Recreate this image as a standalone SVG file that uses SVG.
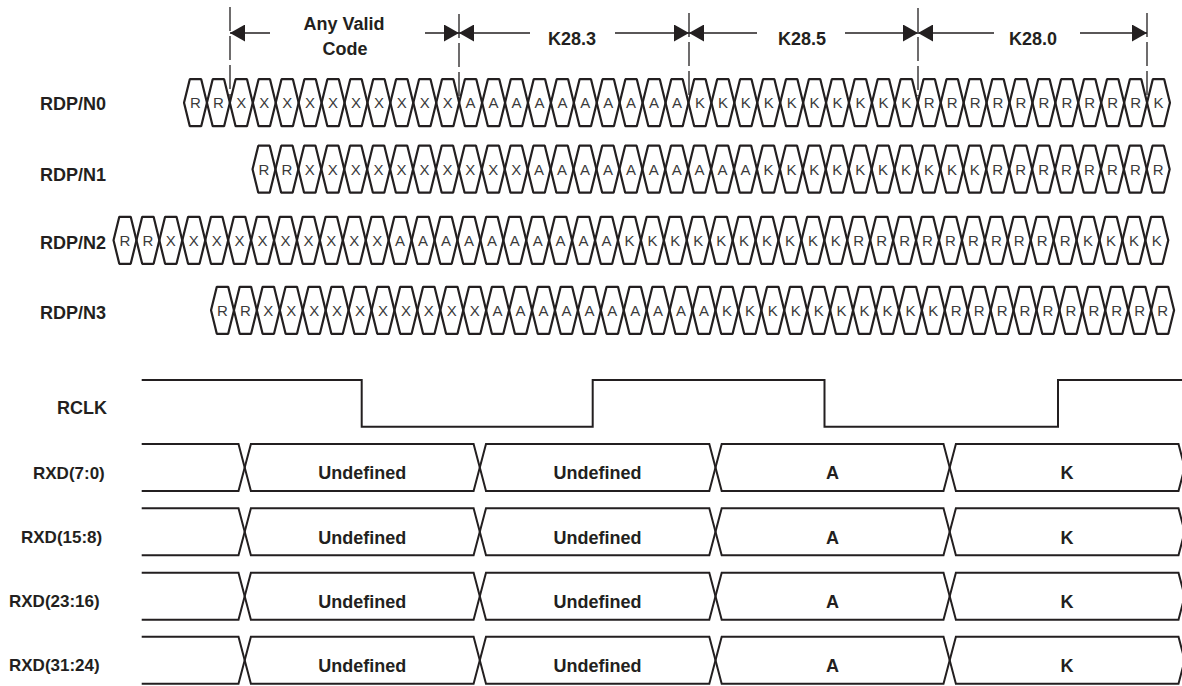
<svg xmlns="http://www.w3.org/2000/svg" xmlns:xlink="http://www.w3.org/1999/xlink" width="1182" height="686" viewBox="0 0 1182 686">
<style>
.ln{fill:none;stroke:#231f20;stroke-width:2;stroke-linejoin:miter;stroke-miterlimit:10}
.cellp{fill:none;stroke:#231f20;stroke-width:2.2;stroke-linejoin:bevel}
.c{font-family:"Liberation Sans",Arial,sans-serif;font-size:15px;fill:#3a3a3a;text-anchor:middle}
.lb{font-family:"Liberation Sans",Arial,sans-serif;font-size:18px;font-weight:bold;fill:#231f20}
.lbx{font-family:"Liberation Sans",Arial,sans-serif;font-size:17px;font-weight:bold;fill:#231f20}
.m{text-anchor:middle}
.dim{stroke:#231f20;stroke-width:1.3;fill:none}
.dash{stroke:#231f20;stroke-width:1.3;fill:none;stroke-dasharray:24 5}
</style>
<defs>
<polygon id="cell" class="cellp" points="-11.47,0 -5.7,-23.5 5.7,-23.5 11.47,0 5.7,23.5 -5.7,23.5"/>
<g id="bus">
<path class="ln" d="M141.7,0 H238.5 L244.7,23.5 L238.5,47 H141.7"/>
<polygon class="ln" points="244.7,23.5 250.9,0 473.6,0 479.8,23.5 473.6,47 250.9,47"/>
<polygon class="ln" points="479.8,23.5 486,0 709.3,0 715.5,23.5 709.3,47 486,47"/>
<polygon class="ln" points="715.5,23.5 721.7,0 943.5,0 949.7,23.5 943.5,47 721.7,47"/>
<polygon class="ln" points="949.7,23.5 955.9,0 1178.5,0 1184.7,23.5 1178.5,47 955.9,47"/>
</g>
<marker id="ah" viewBox="0 0 15 17" refX="15" refY="8.5" markerWidth="15" markerHeight="17" markerUnits="userSpaceOnUse" orient="auto">
<path d="M0,0 L15,8.5 L0,17 z" fill="#231f20"/>
</marker>
</defs>

<g id="connectors">
<line class="dash" x1="230" y1="7" x2="230" y2="100"/>
<line class="dash" x1="459" y1="14" x2="459" y2="100"/>
<line class="dash" x1="689" y1="13" x2="689" y2="96"/>
<line class="dash" x1="918" y1="8" x2="918" y2="96"/>
<line class="dash" x1="1147" y1="13" x2="1147" y2="96"/>
<line class="dim" x1="270" y1="33" x2="230" y2="33" marker-end="url(#ah)"/>
<line class="dim" x1="425" y1="33" x2="459" y2="33" marker-end="url(#ah)"/>
<line class="dim" x1="530" y1="33" x2="459" y2="33" marker-end="url(#ah)"/>
<line class="dim" x1="615" y1="33" x2="689" y2="33" marker-end="url(#ah)"/>
<line class="dim" x1="757" y1="33" x2="689" y2="33" marker-end="url(#ah)"/>
<line class="dim" x1="845" y1="33" x2="918" y2="33" marker-end="url(#ah)"/>
<line class="dim" x1="994" y1="33" x2="918" y2="33" marker-end="url(#ah)"/>
<line class="dim" x1="1080" y1="33" x2="1147" y2="33" marker-end="url(#ah)"/>
</g>

<g id="dim-labels">
<text class="lb m" x="344" y="30">Any Valid</text>
<text class="lb m" x="345" y="55">Code</text>
<text class="lb m" x="572" y="45">K28.3</text>
<text class="lb m" x="802" y="45">K28.5</text>
<text class="lb m" x="1033" y="45">K28.0</text>
</g>

<g id="rdp-n0">
<text class="lb" x="40" y="110">RDP/N0</text>
<g transform="translate(0,102.7)">
<use href="#cell" x="195.5"/><use href="#cell" x="218.4"/><use href="#cell" x="241.3"/><use href="#cell" x="264.3"/><use href="#cell" x="287.2"/><use href="#cell" x="310.1"/><use href="#cell" x="333.1"/><use href="#cell" x="356.0"/><use href="#cell" x="378.9"/><use href="#cell" x="401.8"/><use href="#cell" x="424.8"/><use href="#cell" x="447.7"/><use href="#cell" x="470.6"/><use href="#cell" x="493.6"/><use href="#cell" x="516.5"/><use href="#cell" x="539.4"/><use href="#cell" x="562.4"/><use href="#cell" x="585.3"/><use href="#cell" x="608.2"/><use href="#cell" x="631.1"/><use href="#cell" x="654.1"/><use href="#cell" x="677.0"/><use href="#cell" x="699.9"/><use href="#cell" x="722.9"/><use href="#cell" x="745.8"/><use href="#cell" x="768.7"/><use href="#cell" x="791.7"/><use href="#cell" x="814.6"/><use href="#cell" x="837.5"/><use href="#cell" x="860.4"/><use href="#cell" x="883.4"/><use href="#cell" x="906.3"/><use href="#cell" x="929.2"/><use href="#cell" x="952.2"/><use href="#cell" x="975.1"/><use href="#cell" x="998.0"/><use href="#cell" x="1021.0"/><use href="#cell" x="1043.9"/><use href="#cell" x="1066.8"/><use href="#cell" x="1089.7"/><use href="#cell" x="1112.7"/><use href="#cell" x="1135.6"/><use href="#cell" x="1158.5"/>
<g transform="translate(0,5.3)">
<text class="c" x="195.5">R</text><text class="c" x="218.4">R</text><text class="c" x="241.3">X</text><text class="c" x="264.3">X</text><text class="c" x="287.2">X</text><text class="c" x="310.1">X</text><text class="c" x="333.1">X</text><text class="c" x="356.0">X</text><text class="c" x="378.9">X</text><text class="c" x="401.8">X</text><text class="c" x="424.8">X</text><text class="c" x="447.7">X</text><text class="c" x="470.6">A</text><text class="c" x="493.6">A</text><text class="c" x="516.5">A</text><text class="c" x="539.4">A</text><text class="c" x="562.4">A</text><text class="c" x="585.3">A</text><text class="c" x="608.2">A</text><text class="c" x="631.1">A</text><text class="c" x="654.1">A</text><text class="c" x="677.0">A</text><text class="c" x="699.9">K</text><text class="c" x="722.9">K</text><text class="c" x="745.8">K</text><text class="c" x="768.7">K</text><text class="c" x="791.7">K</text><text class="c" x="814.6">K</text><text class="c" x="837.5">K</text><text class="c" x="860.4">K</text><text class="c" x="883.4">K</text><text class="c" x="906.3">K</text><text class="c" x="929.2">R</text><text class="c" x="952.2">R</text><text class="c" x="975.1">R</text><text class="c" x="998.0">R</text><text class="c" x="1021.0">R</text><text class="c" x="1043.9">R</text><text class="c" x="1066.8">R</text><text class="c" x="1089.7">R</text><text class="c" x="1112.7">R</text><text class="c" x="1135.6">R</text><text class="c" x="1158.5">K</text>
</g>
</g>
</g>

<g id="rdp-n1">
<text class="lb" x="40" y="180.5">RDP/N1</text>
<g transform="translate(0,169.2)">
<use href="#cell" x="264.0"/><use href="#cell" x="286.9"/><use href="#cell" x="309.8"/><use href="#cell" x="332.8"/><use href="#cell" x="355.7"/><use href="#cell" x="378.6"/><use href="#cell" x="401.6"/><use href="#cell" x="424.5"/><use href="#cell" x="447.4"/><use href="#cell" x="470.3"/><use href="#cell" x="493.3"/><use href="#cell" x="516.2"/><use href="#cell" x="539.1"/><use href="#cell" x="562.1"/><use href="#cell" x="585.0"/><use href="#cell" x="607.9"/><use href="#cell" x="630.9"/><use href="#cell" x="653.8"/><use href="#cell" x="676.7"/><use href="#cell" x="699.6"/><use href="#cell" x="722.6"/><use href="#cell" x="745.5"/><use href="#cell" x="768.4"/><use href="#cell" x="791.4"/><use href="#cell" x="814.3"/><use href="#cell" x="837.2"/><use href="#cell" x="860.2"/><use href="#cell" x="883.1"/><use href="#cell" x="906.0"/><use href="#cell" x="928.9"/><use href="#cell" x="951.9"/><use href="#cell" x="974.8"/><use href="#cell" x="997.7"/><use href="#cell" x="1020.7"/><use href="#cell" x="1043.6"/><use href="#cell" x="1066.5"/><use href="#cell" x="1089.5"/><use href="#cell" x="1112.4"/><use href="#cell" x="1135.3"/><use href="#cell" x="1158.2"/>
<g transform="translate(0,5.3)">
<text class="c" x="264.0">R</text><text class="c" x="286.9">R</text><text class="c" x="309.8">X</text><text class="c" x="332.8">X</text><text class="c" x="355.7">X</text><text class="c" x="378.6">X</text><text class="c" x="401.6">X</text><text class="c" x="424.5">X</text><text class="c" x="447.4">X</text><text class="c" x="470.3">X</text><text class="c" x="493.3">X</text><text class="c" x="516.2">X</text><text class="c" x="539.1">A</text><text class="c" x="562.1">A</text><text class="c" x="585.0">A</text><text class="c" x="607.9">A</text><text class="c" x="630.9">A</text><text class="c" x="653.8">A</text><text class="c" x="676.7">A</text><text class="c" x="699.6">A</text><text class="c" x="722.6">A</text><text class="c" x="745.5">A</text><text class="c" x="768.4">K</text><text class="c" x="791.4">K</text><text class="c" x="814.3">K</text><text class="c" x="837.2">K</text><text class="c" x="860.2">K</text><text class="c" x="883.1">K</text><text class="c" x="906.0">K</text><text class="c" x="928.9">K</text><text class="c" x="951.9">K</text><text class="c" x="974.8">K</text><text class="c" x="997.7">R</text><text class="c" x="1020.7">R</text><text class="c" x="1043.6">R</text><text class="c" x="1066.5">R</text><text class="c" x="1089.5">R</text><text class="c" x="1112.4">R</text><text class="c" x="1135.3">R</text><text class="c" x="1158.2">R</text>
</g>
</g>
</g>

<g id="rdp-n2">
<text class="lb" x="40" y="248.5">RDP/N2</text>
<g transform="translate(0,240.3)">
<use href="#cell" x="125.0"/><use href="#cell" x="147.9"/><use href="#cell" x="170.8"/><use href="#cell" x="193.8"/><use href="#cell" x="216.7"/><use href="#cell" x="239.6"/><use href="#cell" x="262.6"/><use href="#cell" x="285.5"/><use href="#cell" x="308.4"/><use href="#cell" x="331.3"/><use href="#cell" x="354.3"/><use href="#cell" x="377.2"/><use href="#cell" x="400.1"/><use href="#cell" x="423.1"/><use href="#cell" x="446.0"/><use href="#cell" x="468.9"/><use href="#cell" x="491.9"/><use href="#cell" x="514.8"/><use href="#cell" x="537.7"/><use href="#cell" x="560.6"/><use href="#cell" x="583.6"/><use href="#cell" x="606.5"/><use href="#cell" x="629.4"/><use href="#cell" x="652.4"/><use href="#cell" x="675.3"/><use href="#cell" x="698.2"/><use href="#cell" x="721.2"/><use href="#cell" x="744.1"/><use href="#cell" x="767.0"/><use href="#cell" x="789.9"/><use href="#cell" x="812.9"/><use href="#cell" x="835.8"/><use href="#cell" x="858.7"/><use href="#cell" x="881.7"/><use href="#cell" x="904.6"/><use href="#cell" x="927.5"/><use href="#cell" x="950.5"/><use href="#cell" x="973.4"/><use href="#cell" x="996.3"/><use href="#cell" x="1019.2"/><use href="#cell" x="1042.2"/><use href="#cell" x="1065.1"/><use href="#cell" x="1088.0"/><use href="#cell" x="1111.0"/><use href="#cell" x="1133.9"/><use href="#cell" x="1156.8"/>
<g transform="translate(0,5.3)">
<text class="c" x="125.0">R</text><text class="c" x="147.9">R</text><text class="c" x="170.8">X</text><text class="c" x="193.8">X</text><text class="c" x="216.7">X</text><text class="c" x="239.6">X</text><text class="c" x="262.6">X</text><text class="c" x="285.5">X</text><text class="c" x="308.4">X</text><text class="c" x="331.3">X</text><text class="c" x="354.3">X</text><text class="c" x="377.2">X</text><text class="c" x="400.1">A</text><text class="c" x="423.1">A</text><text class="c" x="446.0">A</text><text class="c" x="468.9">A</text><text class="c" x="491.9">A</text><text class="c" x="514.8">A</text><text class="c" x="537.7">A</text><text class="c" x="560.6">A</text><text class="c" x="583.6">A</text><text class="c" x="606.5">A</text><text class="c" x="629.4">K</text><text class="c" x="652.4">K</text><text class="c" x="675.3">K</text><text class="c" x="698.2">K</text><text class="c" x="721.2">K</text><text class="c" x="744.1">K</text><text class="c" x="767.0">K</text><text class="c" x="789.9">K</text><text class="c" x="812.9">K</text><text class="c" x="835.8">K</text><text class="c" x="858.7">R</text><text class="c" x="881.7">R</text><text class="c" x="904.6">R</text><text class="c" x="927.5">R</text><text class="c" x="950.5">R</text><text class="c" x="973.4">R</text><text class="c" x="996.3">R</text><text class="c" x="1019.2">R</text><text class="c" x="1042.2">R</text><text class="c" x="1065.1">R</text><text class="c" x="1088.0">K</text><text class="c" x="1111.0">K</text><text class="c" x="1133.9">K</text><text class="c" x="1156.8">K</text>
</g>
</g>
</g>

<g id="rdp-n3">
<text class="lb" x="40" y="318.5">RDP/N3</text>
<g transform="translate(0,310.3)">
<use href="#cell" x="222.5"/><use href="#cell" x="245.4"/><use href="#cell" x="268.3"/><use href="#cell" x="291.3"/><use href="#cell" x="314.2"/><use href="#cell" x="337.1"/><use href="#cell" x="360.1"/><use href="#cell" x="383.0"/><use href="#cell" x="405.9"/><use href="#cell" x="428.8"/><use href="#cell" x="451.8"/><use href="#cell" x="474.7"/><use href="#cell" x="497.6"/><use href="#cell" x="520.6"/><use href="#cell" x="543.5"/><use href="#cell" x="566.4"/><use href="#cell" x="589.4"/><use href="#cell" x="612.3"/><use href="#cell" x="635.2"/><use href="#cell" x="658.1"/><use href="#cell" x="681.1"/><use href="#cell" x="704.0"/><use href="#cell" x="726.9"/><use href="#cell" x="749.9"/><use href="#cell" x="772.8"/><use href="#cell" x="795.7"/><use href="#cell" x="818.7"/><use href="#cell" x="841.6"/><use href="#cell" x="864.5"/><use href="#cell" x="887.4"/><use href="#cell" x="910.4"/><use href="#cell" x="933.3"/><use href="#cell" x="956.2"/><use href="#cell" x="979.2"/><use href="#cell" x="1002.1"/><use href="#cell" x="1025.0"/><use href="#cell" x="1048.0"/><use href="#cell" x="1070.9"/><use href="#cell" x="1093.8"/><use href="#cell" x="1116.7"/><use href="#cell" x="1139.7"/><use href="#cell" x="1162.6"/>
<g transform="translate(0,5.3)">
<text class="c" x="222.5">R</text><text class="c" x="245.4">R</text><text class="c" x="268.3">X</text><text class="c" x="291.3">X</text><text class="c" x="314.2">X</text><text class="c" x="337.1">X</text><text class="c" x="360.1">X</text><text class="c" x="383.0">X</text><text class="c" x="405.9">X</text><text class="c" x="428.8">X</text><text class="c" x="451.8">X</text><text class="c" x="474.7">X</text><text class="c" x="497.6">A</text><text class="c" x="520.6">A</text><text class="c" x="543.5">A</text><text class="c" x="566.4">A</text><text class="c" x="589.4">A</text><text class="c" x="612.3">A</text><text class="c" x="635.2">A</text><text class="c" x="658.1">A</text><text class="c" x="681.1">A</text><text class="c" x="704.0">A</text><text class="c" x="726.9">K</text><text class="c" x="749.9">K</text><text class="c" x="772.8">K</text><text class="c" x="795.7">K</text><text class="c" x="818.7">K</text><text class="c" x="841.6">K</text><text class="c" x="864.5">K</text><text class="c" x="887.4">K</text><text class="c" x="910.4">K</text><text class="c" x="933.3">K</text><text class="c" x="956.2">R</text><text class="c" x="979.2">R</text><text class="c" x="1002.1">R</text><text class="c" x="1025.0">R</text><text class="c" x="1048.0">R</text><text class="c" x="1070.9">R</text><text class="c" x="1093.8">R</text><text class="c" x="1116.7">R</text><text class="c" x="1139.7">R</text><text class="c" x="1162.6">R</text>
</g>
</g>
</g>

<g id="rclk">
<text class="lb" x="107" y="413.5" text-anchor="end">RCLK</text>
<path class="ln" d="M141.7,380 H361.7 V426.7 H592.7 V380 H824.5 V426.7 H1058 V380 H1182"/>
</g>

<g id="rxd-7-0">
<text class="lbx" x="33" y="478.5">RXD(7:0)</text>
<use href="#bus" y="444"/>
<text class="lb m" x="362.3" y="479.3">Undefined</text>
<text class="lb m" x="597.6" y="479.3">Undefined</text>
<text class="lb m" x="832.6" y="479.3">A</text>
<text class="lb m" x="1067" y="479.3">K</text>
</g>

<g id="rxd-15-8">
<text class="lbx" x="21" y="543">RXD(15:8)</text>
<use href="#bus" y="508.3"/>
<text class="lb m" x="362.3" y="543.6">Undefined</text>
<text class="lb m" x="597.6" y="543.6">Undefined</text>
<text class="lb m" x="832.6" y="543.6">A</text>
<text class="lb m" x="1067" y="543.6">K</text>
</g>

<g id="rxd-23-16">
<text class="lbx" x="9" y="606.7">RXD(23:16)</text>
<use href="#bus" y="572.7"/>
<text class="lb m" x="362.3" y="608">Undefined</text>
<text class="lb m" x="597.6" y="608">Undefined</text>
<text class="lb m" x="832.6" y="608">A</text>
<text class="lb m" x="1067" y="608">K</text>
</g>

<g id="rxd-31-24">
<text class="lbx" x="9" y="671">RXD(31:24)</text>
<use href="#bus" y="636.7"/>
<text class="lb m" x="362.3" y="672">Undefined</text>
<text class="lb m" x="597.6" y="672">Undefined</text>
<text class="lb m" x="832.6" y="672">A</text>
<text class="lb m" x="1067" y="672">K</text>
</g>
</svg>
